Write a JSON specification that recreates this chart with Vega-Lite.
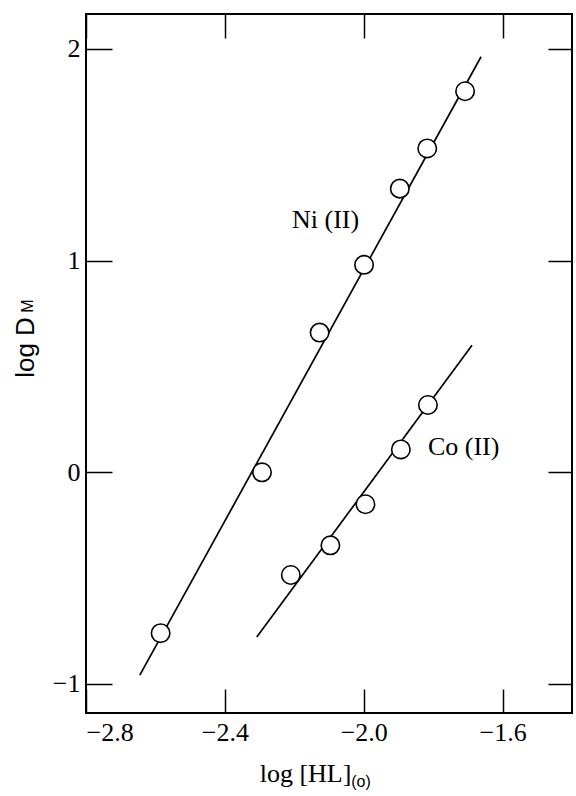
{
  "$schema": "https://vega.github.io/schema/vega-lite/v6.json",
  "autosize": "none",
  "width": 486,
  "height": 699,
  "padding": {"left": 86, "top": 14, "right": 4, "bottom": 83},
  "background": "white",
  "config": {
    "view": {"stroke": "black", "strokeWidth": 2},
    "axis": {"grid": false, "domain": false, "tickColor": "black", "tickWidth": 1.5, "labelColor": "black", "titleColor": "black"}
  },
  "datasets": {
    "lines": [
      {"series": "Ni(II)", "logHL": -2.645, "logD": -0.958},
      {"series": "Ni(II)", "logHL": -1.662, "logD": 1.963},
      {"series": "Co(II)", "logHL": -2.308, "logD": -0.778},
      {"series": "Co(II)", "logHL": -1.688, "logD": 0.60}
    ],
    "points": [
      {"series": "Ni(II)", "logHL": -2.585, "logD": -0.76},
      {"series": "Ni(II)", "logHL": -2.293, "logD": 0.0},
      {"series": "Ni(II)", "logHL": -2.127, "logD": 0.66},
      {"series": "Ni(II)", "logHL": -1.999, "logD": 0.98},
      {"series": "Ni(II)", "logHL": -1.896, "logD": 1.34},
      {"series": "Ni(II)", "logHL": -1.817, "logD": 1.53},
      {"series": "Ni(II)", "logHL": -1.708, "logD": 1.80},
      {"series": "Co(II)", "logHL": -2.21, "logD": -0.485},
      {"series": "Co(II)", "logHL": -2.096, "logD": -0.345},
      {"series": "Co(II)", "logHL": -1.995, "logD": -0.151},
      {"series": "Co(II)", "logHL": -1.893, "logD": 0.108},
      {"series": "Co(II)", "logHL": -1.815, "logD": 0.318}
    ],
    "labels": [
      {"text": "Ni (II)", "logHL": -2.2065, "logD": 1.192},
      {"text": "Co (II)", "logHL": -1.815, "logD": 0.12}
    ],
    "subs": [
      {"text": "M", "logHL": -2.9525, "logD": 0.785, "angle": 270},
      {"text": "(o)", "logHL": -2.0077, "logD": -1.485, "angle": 0}
    ]
  },
  "resolve": {"axis": {"x": "independent", "y": "independent"}},
  "layer": [
    {
      "data": {"name": "lines"},
      "mark": {"type": "line", "color": "black", "strokeWidth": 1.7},
      "encoding": {
        "x": {"field": "logHL", "type": "quantitative",
              "scale": {"domain": [-2.8, -1.4], "nice": false, "zero": false},
              "axis": {"orient": "bottom", "values": [-2.8, -2.4, -2.0, -1.6], "format": ".1f",
                       "tickSize": -24, "labelPadding": 30, "labelFont": "Liberation Serif", "labelFontSize": 26,
                       "title": "log [HL]", "titleFont": "Liberation Serif", "titleFontSize": 26, "titleFontWeight": "normal",
                       "titleX": 219, "titleY": 68, "titleAlign": "center", "titleBaseline": "alphabetic"}},
        "y": {"field": "logD", "type": "quantitative",
              "scale": {"domain": [-1.137, 2.165], "nice": false, "zero": false},
              "axis": {"orient": "left", "values": [-1, 0, 1, 2], "format": "d",
                       "tickSize": -26, "labelPadding": 32, "labelFont": "Liberation Serif", "labelFontSize": 26,
                       "title": "log D", "titleFont": "Liberation Sans", "titleFontSize": 26, "titleFontWeight": "normal",
                       "titleX": -53, "titleY": 333, "titleAlign": "center", "titleBaseline": "alphabetic", "titleAngle": -90}},
        "detail": {"field": "series"}
      }
    },
    {
      "data": {"name": "points"},
      "mark": {"type": "point", "shape": "circle", "filled": true, "fill": "white", "stroke": "black", "strokeWidth": 1.6, "size": 340, "opacity": 1},
      "encoding": {
        "x": {"field": "logHL", "type": "quantitative",
              "axis": {"orient": "top", "values": [-2.8, -2.4, -2.0, -1.6], "labels": false, "tickSize": -24, "title": null}},
        "y": {"field": "logD", "type": "quantitative",
              "axis": {"orient": "right", "values": [-1, 0, 1, 2], "labels": false, "tickSize": -24, "title": null}}
      }
    },
    {
      "data": {"name": "labels"},
      "mark": {"type": "text", "font": "Liberation Serif", "fontSize": 26, "color": "black", "baseline": "middle", "align": "left"},
      "encoding": {
        "x": {"field": "logHL", "type": "quantitative", "axis": null},
        "y": {"field": "logD", "type": "quantitative", "axis": null},
        "text": {"field": "text"}
      }
    },
    {
      "data": {"name": "subs"},
      "mark": {"type": "text", "font": "Liberation Sans", "fontSize": 16, "color": "black", "baseline": "alphabetic", "align": "center"},
      "encoding": {
        "x": {"field": "logHL", "type": "quantitative", "axis": null},
        "y": {"field": "logD", "type": "quantitative", "axis": null},
        "text": {"field": "text"},
        "angle": {"field": "angle", "type": "quantitative", "scale": null}
      }
    }
  ]
}
